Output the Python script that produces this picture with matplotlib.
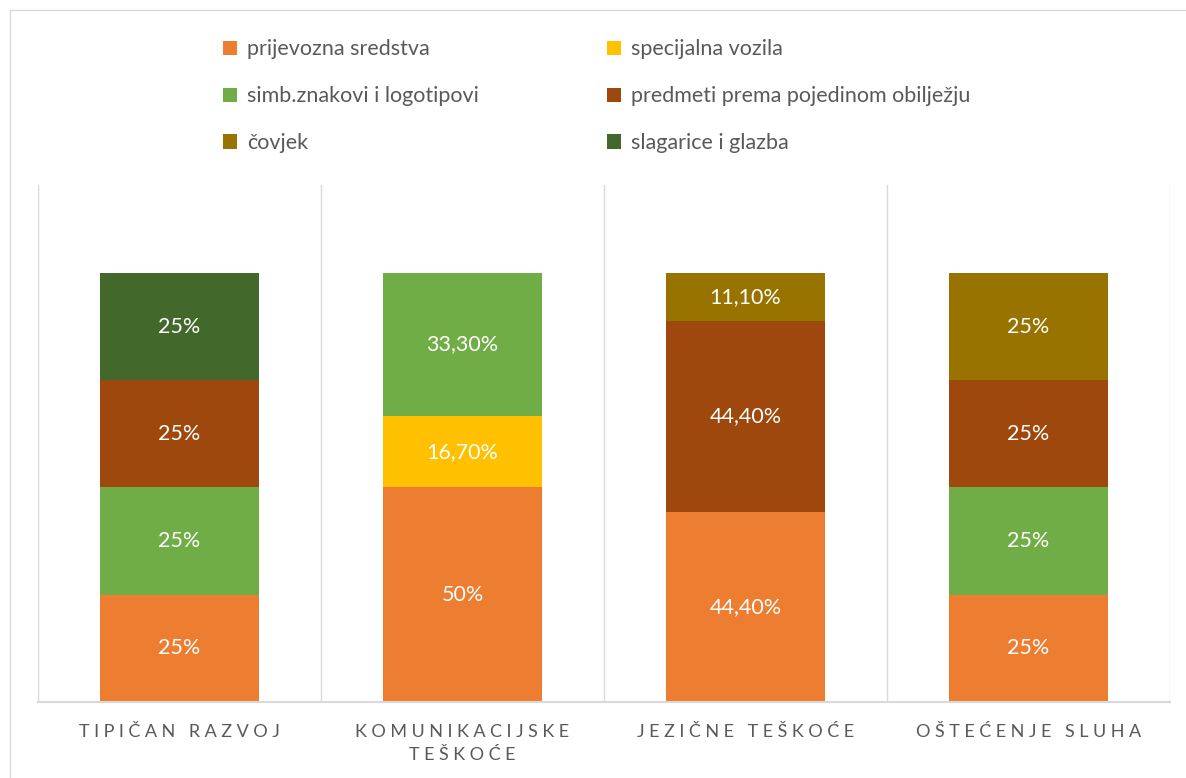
import numpy as np
import matplotlib.pyplot as plt
from matplotlib.patches import Rectangle

plt.rcParams['font.family'] = ['Lato', 'DejaVu Sans']

categories = ['TIPIČAN RAZVOJ', 'KOMUNIKACIJSKE\nTEŠKOĆE', 'JEZIČNE TEŠKOĆE', 'OŠTEĆENJE SLUHA']
series = ['prijevozna sredstva', 'specijalna vozila', 'simb.znakovi i logotipovi',
          'predmeti prema pojedinom obilježju', 'čovjek', 'slagarice i glazba']
colors = ['#ED7D31', '#FFC000', '#70AD47', '#9E480E', '#997300', '#43682B']

prijevozna = [25, 50, 44.4, 25]
specijalna = [0, 16.7, 0, 0]
simb = [25, 33.3, 0, 25]
predmeti = [25, 0, 44.4, 25]
covjek = [0, 0, 11.1, 25]
slagarice = [25, 0, 0, 0]
values = [prijevozna, specijalna, simb, predmeti, covjek, slagarice]

def fmt(v):
    if v == int(v):
        return '%d%%' % v
    return ('%.2f' % v).replace('.', ',') + '%'

# letter-spaced category labels (thin spaces between letters)
def spaced(s):
    return '\n'.join('\u2009\u2009'.join(line) for line in s.split('\n'))

fig = plt.figure(figsize=(11.86, 7.78), dpi=100)
ax = fig.add_axes([38/1186, 76/778, (1170-38)/1186, (702-185)/778])

x = np.arange(len(categories))
bottom = np.zeros(len(categories))
handles = []
for name, vals, c in zip(series, values, colors):
    vals = np.array(vals) / 100
    b = ax.bar(x, vals, 0.56, bottom=bottom, color=c, label=name, zorder=2)
    handles.append(b)
    for xi, v, bt in zip(x, vals, bottom):
        if v > 0:
            ax.text(xi, bt + v / 2, fmt(v * 100), ha='center', va='center',
                    color='white', fontsize=15.5)
    bottom += vals

ax.set_xlim(-0.5, 3.5)
ax.set_ylim(0, 1.205)
ax.set_yticks([])
ax.set_xticks(x)
ax.set_xticklabels([spaced(c) for c in categories], fontsize=13, color='#595959',
                   linespacing=1.55)
ax.tick_params(axis='x', length=0, pad=16)
for xb in [-0.5, 0.5, 1.5, 2.5, 3.5]:
    ax.axvline(xb, color='#D9D9D9', lw=1, zorder=1)
for s in ['top', 'left', 'right']:
    ax.spines[s].set_visible(False)
ax.spines['bottom'].set_color('#D9D9D9')
ax.spines['bottom'].set_linewidth(1.5)

order = [0, 2, 4, 1, 3, 5]
leg = fig.legend([handles[i] for i in order], [series[i] for i in order],
                 ncol=2, loc='upper left', bbox_to_anchor=(204/1186, 1 - 20/778),
                 frameon=False, fontsize=15.5, handlelength=0.65, handleheight=0.65,
                 handletextpad=0.45, columnspacing=5.95, labelspacing=1.25,
                 labelcolor='#595959')

fig.patches.append(Rectangle((10/1186, -0.1), 1.2, (778-10)/778 + 0.1,
                             transform=fig.transFigure, fill=False,
                             edgecolor='#D9D9D9', lw=1))

fig.savefig('out.png', dpi=100)
